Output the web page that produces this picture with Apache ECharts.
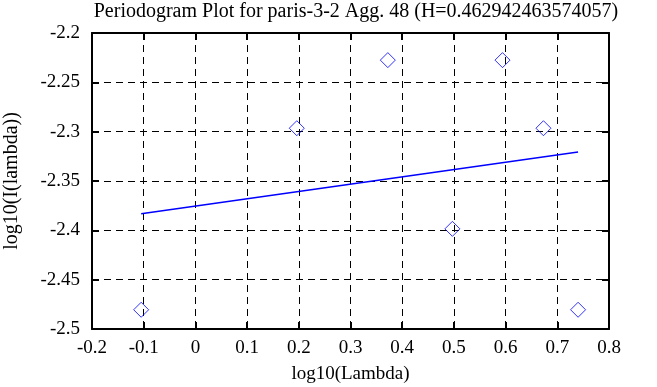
<!DOCTYPE html>
<html>
<head>
<meta charset="utf-8">
<script src="https://cdn.jsdelivr.net/npm/echarts@6/dist/echarts.min.js"></script>
<style>html,body{margin:0;padding:0;background:#fff}#c{width:657px;height:387px}</style>
</head>
<body>
<div id="c"></div>
<script>
const titleText = 'Periodogram Plot for paris-3-2 Agg. 48 (H=0.462942463574057)';
const xName = 'log10(Lambda)';
const yName = 'log10(I(lambda))';
const pointX = [-0.1049, 0.1961, 0.3722, 0.4971, 0.5940, 0.6732, 0.7402];
const pointY = [-2.4805, -2.2965, -2.2275, -2.3985, -2.2275, -2.2965, -2.4805];
const fitX = [-0.1049, 0.7402];
const fitY = [-2.3831, -2.3205];

const FONT = 'Liberation Serif';
const FS = 19;
const chart = echarts.init(document.getElementById('c'), null, {renderer: 'canvas'});
const fmt = v => String(parseFloat(v.toFixed(2)));
const gridLine = {show: true, lineStyle: {color: '#000', width: 1, type: [7, 5]}};
const axLine = {show: true, onZero: false, lineStyle: {color: '#000', width: 2}};
const tick = {show: true, inside: true, length: 7, lineStyle: {color: '#000', width: 2}};
chart.setOption({
  animation: false,
  backgroundColor: '#fff',
  title: {
    text: titleText, left: 351, top: -3, textAlign: 'center',
    textStyle: {fontFamily: FONT, fontSize: 20, fontWeight: 'normal', color: '#000'}
  },
  grid: {left: 92, right: 48, top: 33, bottom: 58, containLabel: false, outerBoundsMode: 'none'},
  xAxis: [{
    type: 'value', min: -0.2, max: 0.8, interval: 0.1, position: 'bottom',
    name: xName, nameLocation: 'middle', nameGap: 36,
    nameTextStyle: {fontFamily: FONT, fontSize: FS, color: '#000'},
    axisLine: axLine, axisTick: tick, splitLine: gridLine,
    axisLabel: {fontFamily: FONT, fontSize: FS, color: '#000', margin: 10, formatter: fmt}
  }, {
    type: 'value', min: -0.2, max: 0.8, interval: 0.1, position: 'top',
    axisLine: axLine, axisTick: tick, splitLine: {show: false}, axisLabel: {show: false}
  }],
  yAxis: [{
    type: 'value', min: -2.5, max: -2.2, interval: 0.05, position: 'left',
    name: yName, nameLocation: 'middle', nameGap: 70, nameRotate: 90,
    nameTextStyle: {fontFamily: FONT, fontSize: 20, color: '#000'},
    axisLine: axLine, axisTick: tick, splitLine: gridLine,
    axisLabel: {fontFamily: FONT, fontSize: FS, color: '#000', margin: 12, formatter: fmt}
  }, {
    type: 'value', min: -2.5, max: -2.2, interval: 0.05, position: 'right',
    axisLine: axLine, axisTick: tick, splitLine: {show: false}, axisLabel: {show: false}
  }],
  series: [{
    type: 'scatter',
    data: pointX.map((x, i) => [x, pointY[i]]),
    symbol: 'diamond', symbolSize: 15,
    itemStyle: {color: 'rgba(0,0,0,0)', borderColor: '#0000ff', borderWidth: 1},
    z: 5
  }, {
    type: 'line',
    data: fitX.map((x, i) => [x, fitY[i]]),
    showSymbol: false, symbol: 'none',
    lineStyle: {color: '#0000ff', width: 1.5},
    z: 4
  }]
});
</script>
</body>
</html>
